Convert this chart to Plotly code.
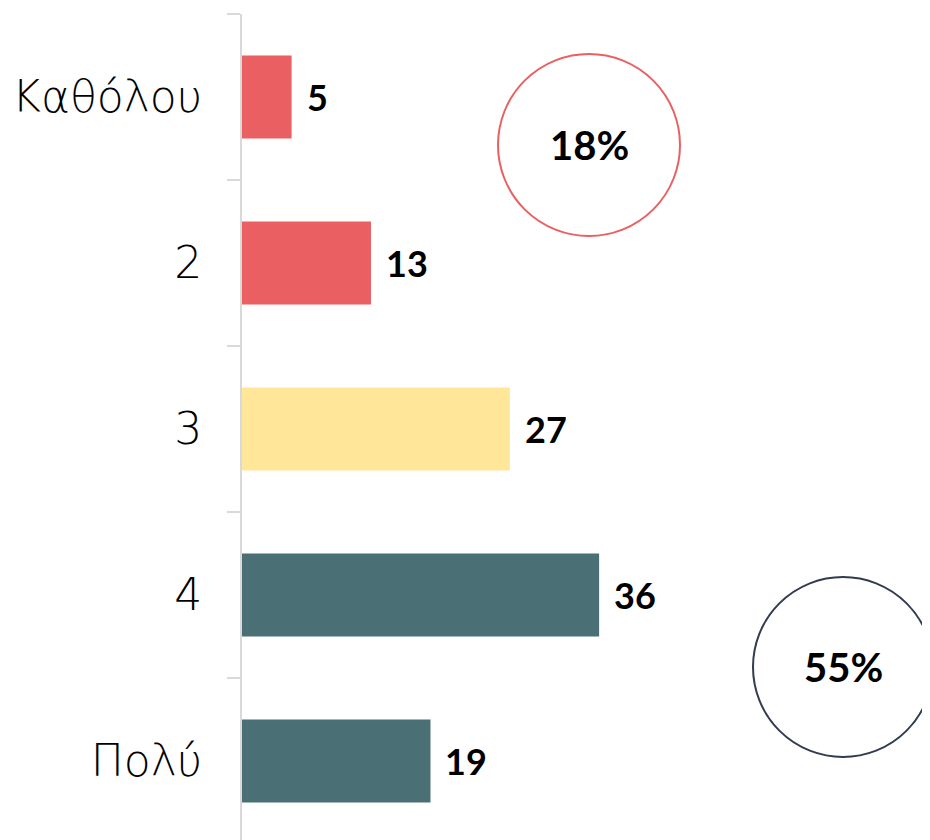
import plotly.graph_objects as go

categories = ["Καθόλου", "2", "3", "4", "Πολύ"]
values = [5, 13, 27, 36, 19]
colors = ["#E95F62", "#E95F62", "#FFE699", "#4A6F75", "#4A6F75"]

W, H = 930, 840
OFF = 7  # page offset of the figure
L, T = 234, 6
PW, PH = W - L, H - T
PX_PER_CAT = 166
PX_PER_UNIT = 9.92

total = sum(values)
low_pct = round(100 * (values[0] + values[1]) / total)
high_pct = round(100 * (values[3] + values[4]) / total)

fig = go.Figure()
fig.add_trace(go.Bar(
    y=list(range(len(categories))), x=values, orientation="h",
    marker=dict(color=colors, line=dict(width=0)),
    width=0.5, hoverinfo="skip",
))

for i, v in enumerate(values):
    fig.add_annotation(x=v, y=i, text=f"<b>{v}</b>", showarrow=False,
                       xanchor="left", xshift=13,
                       font=dict(family="Lato", size=36, color="#000000"))

def px2paper(px, py):
    fx, fy = px - OFF, py - OFF
    return (fx - L) / PW, (H - fy) / PH

def circle(cx, cy, r, color, label):
    x0, y1 = px2paper(cx - r, cy - r)
    x1, y0 = px2paper(cx + r, cy + r)
    fig.add_shape(type="circle", xref="paper", yref="paper",
                  x0=x0, x1=x1, y0=y0, y1=y1,
                  line=dict(color=color, width=2), fillcolor="rgba(0,0,0,0)")
    mx, my = px2paper(cx, cy)
    fig.add_annotation(xref="paper", yref="paper", x=mx, y=my, text=f"<b>{label}</b>",
                       showarrow=False, xanchor="center", yanchor="middle",
                       font=dict(family="Lato", size=40, color="#000000"))

circle(588, 144, 91, "#E95F62", f"{low_pct}%")
circle(842, 666, 90, "#323C50", f"{high_pct}%")

fig.update_layout(
    width=W, height=H,
    margin=dict(l=L, r=0, t=T, b=0, pad=0),
    paper_bgcolor="white", plot_bgcolor="white",
    showlegend=False,
    xaxis=dict(visible=False, range=[0, PW / PX_PER_UNIT], fixedrange=True),
    yaxis=dict(
        tickmode="array", tickvals=list(range(len(categories))), ticktext=categories,
        range=[-0.5 + PH / PX_PER_CAT, -0.5],
        showline=True, linecolor="#D9D9D9", linewidth=2,
        ticks="", showgrid=False, zeroline=False,
        ticklabelstandoff=29,
        tickfont=dict(family="DejaVu Sans", size=44, color="#000000", weight=200),
    ),
)

# boundary tick marks on the category axis
fig.update_yaxes(minor=dict(tickmode="array", tickvals=[i - 0.5 for i in range(len(categories) + 1)],
                            ticks="outside", ticklen=13, tickcolor="#D9D9D9", tickwidth=2,
                            showgrid=False))

fig.write_html("out.html")
